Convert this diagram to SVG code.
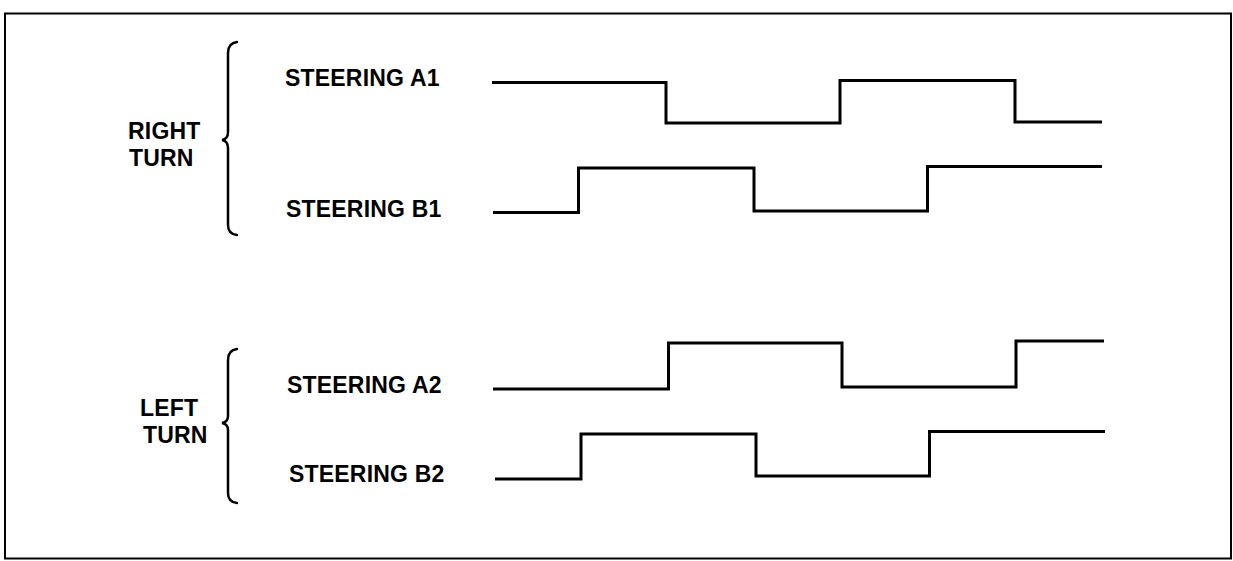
<svg xmlns="http://www.w3.org/2000/svg" width="1233" height="561" viewBox="0 0 1233 561">
<style>
  .lbl { font-family: "Liberation Sans", Arial, sans-serif; font-weight: bold; font-size: 23px; letter-spacing: 0.2px; fill: #000; }
  .wave { fill: none; stroke: #000; stroke-width: 3; stroke-linejoin: miter; }
  .brace { fill: none; stroke: #000; stroke-width: 2.5; stroke-linecap: round; }
  .frame { fill: none; stroke: #000; stroke-width: 2; }
</style>
<rect width="1233" height="561" fill="#fff"/>
<rect class="frame" x="5" y="13.5" width="1226" height="545"/>

<g id="group-right-turn">
  <text class="lbl" x="128" y="139">RIGHT</text>
  <text class="lbl" x="129" y="166">TURN</text>
  <path class="brace" d="M237,42 Q228,43 228,53 L228,132 Q228,139 222,140 Q228,141 228,148 L228,225 Q228,234 237,235"/>
</g>

<g id="group-left-turn">
  <text class="lbl" x="140" y="416">LEFT</text>
  <text class="lbl" x="143" y="443">TURN</text>
  <path class="brace" d="M237,349 Q228,350 228,360 L228,416 Q228,422 222,423 Q228,424 228,430 L228,493 Q228,502 237,503"/>
</g>

<g id="steering-a1">
  <text class="lbl" x="285" y="86">STEERING A1</text>
</g>
<g id="steering-b1">
  <text class="lbl" x="286" y="217">STEERING B1</text>
</g>
<g id="steering-a2">
  <text class="lbl" x="287" y="393">STEERING A2</text>
</g>
<g id="steering-b2">
  <text class="lbl" x="289" y="482">STEERING B2</text>
</g>

<g id="waveforms">
  <path id="wave-a1" class="wave" d="M492,82.5 L666,82.5 L666,123 L840,123 L840,80.5 L1015,80.5 L1015,122 L1102,122"/>
  <path id="wave-b1" class="wave" d="M493,212.5 L578.5,212.5 L578.5,168 L754,168 L754,211 L927.5,211 L927.5,166.5 L1102,166.5"/>
  <path id="wave-a2" class="wave" d="M493,389 L668.5,389 L668.5,343 L842,343 L842,387 L1016,387 L1016,341 L1104,341"/>
  <path id="wave-b2" class="wave" d="M495,479 L581,479 L581,434 L756,434 L756,476 L929.5,476 L929.5,431.5 L1105,431.5"/>
</g>
</svg>
